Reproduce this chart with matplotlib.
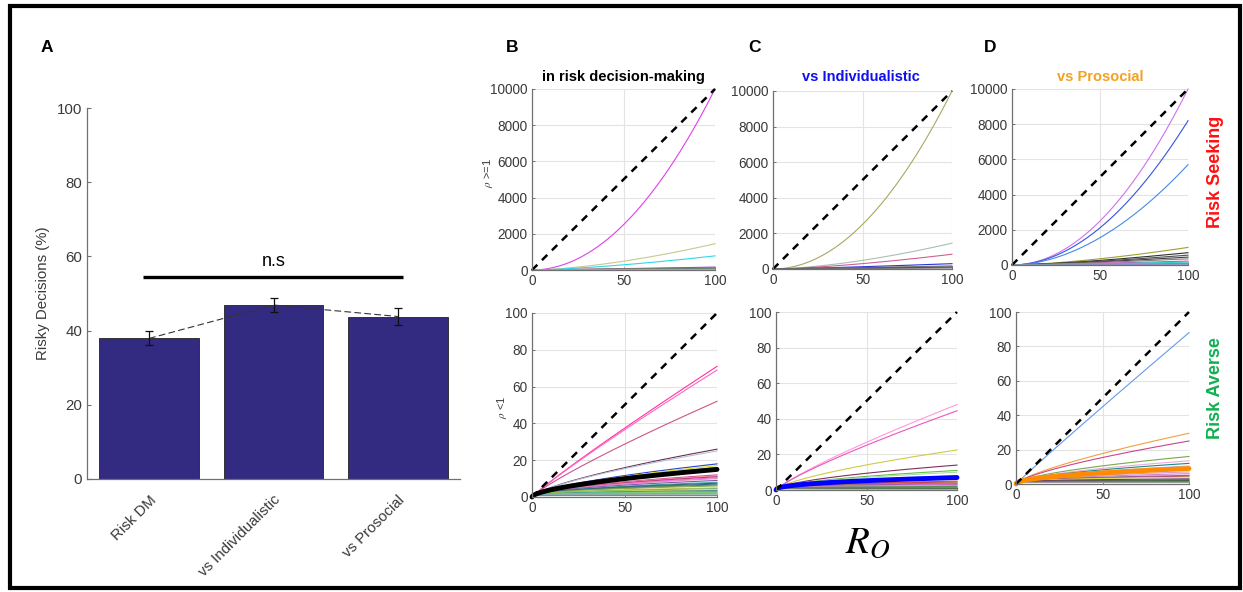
import numpy as np
import matplotlib
matplotlib.use("Agg")
import matplotlib.pyplot as plt
from matplotlib.patches import Rectangle

plt.rcParams['font.family'] = ['Liberation Sans', 'DejaVu Sans']
plt.rcParams['mathtext.fontset'] = 'stix'

# ---------------- data ----------------
bar_labels = ["Risk DM", "vs Individualistic", "vs Prosocial"]
bar_values = [37.9, 46.9, 43.8]
bar_errors = [1.9, 1.9, 2.3]

B_top_ends = [10000, 1450, 780, 160, 120, 90, 60, 40, 20]
B_top_colors = ['#E040E8', '#C8C890', '#30D8E8', '#8040A0', '#A09040',
                '#6060A0', '#909060', '#40A080', '#B0B0B0']
B_bot_ends = [71, 69, 52, 26, 25, 18, 17, 16, 12, 11.5, 11, 10.5, 10, 9, 8,
              7.5, 7, 6.5, 6, 5, 4.5, 4, 3.5, 3, 2.5, 2, 1.5, 1]
B_bot_colors = ['#FF3399', '#FF66CC', '#CC5588', '#6B2D4F', '#B0C4DE', '#2244CC',
                '#DDDD22', '#44AA44', '#CC4488', '#FF88AA', '#AA3366', '#EE66CC',
                '#DD88BB', '#8855AA', '#44AAAA', '#2F6F6F', '#336699', '#558855',
                '#88AA44', '#CCCC55', '#66AA66', '#DDDD44', '#558888', '#44BB99',
                '#88CC66', '#33CCAA', '#99AAAA', '#22BB88']
B_bot_mean = 15

C_top_ends = [10000, 1450, 830, 300, 170, 130, 100, 60]
C_top_colors = ['#A8A860', '#A8C0B0', '#D06090', '#3030E0', '#606060',
                '#909090', '#404040', '#707070']
C_bot_ends = [48, 44.5, 22.5, 14, 11, 10, 8, 5, 4.5, 4, 3.5, 3, 2.5, 2, 1.5, 1, 0.5]
C_bot_colors = ['#FF99DD', '#EE55BB', '#CCCC44', '#7F2F5F', '#66BB44', '#AADDAA',
                '#88CCEE', '#DD6622', '#CC3333', '#AA8844', '#9955AA', '#CC55CC',
                '#EE88CC', '#668866', '#449944', '#226622', '#888888']
C_bot_mean = 7

D_top_ends = [10000, 8200, 5700, 1000, 700, 560, 450, 350, 220, 160, 90, 40]
D_top_colors = ['#D070F0', '#3355DD', '#4488EE', '#A0A030', '#303030', '#505050',
                '#404040', '#808080', '#E040C0', '#30D0D0', '#70A070', '#9090C0']
D_bot_ends = [88, 29.5, 25, 16, 13.5, 12, 10.5, 7, 6, 5, 4.5, 4, 3, 2.5, 2, 1.5, 1]
D_bot_colors = ['#6699EE', '#F0A040', '#CC4488', '#77AA44', '#EEAADD', '#228888',
                '#BBBBDD', '#DD99CC', '#CC88CC', '#9966AA', '#AA4466', '#DDDD44',
                '#663366', '#884488', '#336633', '#777777', '#999999']
D_bot_mean = 9

R_max = 100

# ---------------- figure ----------------
W, H = 1243, 592
fig = plt.figure(figsize=(W / 100, H / 100), dpi=100)
fig.patch.set_facecolor('white')


def ax_px(l, t, r, b):
    return fig.add_axes([l / W, 1 - b / H, (r - l) / W, (b - t) / H])


TICKC = '#3A3A3A'
SPINEC = '#707070'

# frame
fig.patches.append(Rectangle((10 / W, 1 - 588 / H), 1230 / W, 582 / H,
                             transform=fig.transFigure, fill=False,
                             lw=3, ec='black'))

# ---------------- Panel A ----------------
axA = ax_px(87, 108, 460, 479)
xs = np.arange(1, len(bar_values) + 1)
axA.bar(xs, bar_values, width=0.8, color='#332A82', edgecolor='#222222', lw=0.6, zorder=2)
axA.errorbar(xs, bar_values, yerr=bar_errors, fmt='none', ecolor='#111111',
             elinewidth=0.9, capsize=3, capthick=0.9, zorder=4)
axA.plot(xs, bar_values, ls=(0, (6, 3)), color='#333333', lw=0.8, zorder=3)
axA.plot([0.95, 3.04], [54.5, 54.5], color='black', lw=2.4, solid_capstyle='butt')
axA.text(2, 56.2, 'n.s', ha='center', va='bottom', fontsize=13, color='black')
axA.set_xlim(0.5, 3.5)
axA.set_ylim(0, 100)
axA.set_yticks(np.arange(0, 101, 20))
axA.set_xticks(xs)
axA.set_xticklabels(bar_labels, rotation=45, ha='right', rotation_mode='anchor')
for s in ['top', 'right']:
    axA.spines[s].set_visible(False)
for s in ['left', 'bottom']:
    axA.spines[s].set_color(SPINEC)
    axA.spines[s].set_linewidth(0.9)
axA.tick_params(direction='in', length=3, width=0.8, colors=SPINEC,
                labelcolor=TICKC, labelsize=10.8)
axA.tick_params(axis='x', length=0, pad=10)
axA.set_ylabel('Risky Decisions (%)', fontsize=10.8, color=TICKC, labelpad=5)

# ---------------- Power curves ----------------
x = np.linspace(0, R_max, 301)


def curve(end):
    rho = np.log(end) / np.log(R_max)
    return x ** rho


def style_sub(ax, top):
    ax.set_xlim(0, 100)
    if top:
        ax.set_ylim(0, 10000)
        ax.set_yticks(np.arange(0, 10001, 2000))
    else:
        ax.set_ylim(0, 100)
        ax.set_yticks(np.arange(0, 101, 20))
    ax.set_xticks([0, 50, 100])
    ax.grid(True, color='#E3E3E3', lw=0.8)
    ax.set_axisbelow(True)
    for s in ['top', 'right']:
        ax.spines[s].set_visible(False)
    for s in ['left', 'bottom']:
        ax.spines[s].set_color(SPINEC)
        ax.spines[s].set_linewidth(0.9)
    ax.tick_params(direction='in', length=2.5, width=0.7, colors=SPINEC,
                   labelcolor=TICKC, labelsize=9.8, pad=3)


def draw(ax, ends, colors, top, mean=None, mean_color=None):
    for e, c in zip(ends, colors):
        ax.plot(x, curve(e), color=c, lw=0.8, clip_on=False)
    if mean is not None:
        ax.plot(x, curve(mean), color=mean_color, lw=3.5, clip_on=False,
                solid_capstyle='round')
    ymax = 10000 if top else 100
    ax.plot([0, 100], [0, ymax], color='black', lw=1.8, ls=(0, (3.0, 2.6)), clip_on=False)
    style_sub(ax, top)


axBt = ax_px(532, 89, 715, 270)
draw(axBt, B_top_ends, B_top_colors, True)
axBb = ax_px(532, 313, 717, 497)
draw(axBb, B_bot_ends, B_bot_colors, False, B_bot_mean, 'black')

axCt = ax_px(773, 91, 952, 269)
draw(axCt, C_top_ends, C_top_colors, True)
axCb = ax_px(776, 312, 957, 490)
draw(axCb, C_bot_ends, C_bot_colors, False, C_bot_mean, '#0000FF')

axDt = ax_px(1012, 89, 1188, 265)
draw(axDt, D_top_ends, D_top_colors, True)
axDb = ax_px(1016, 312, 1189, 484)
draw(axDb, D_bot_ends, D_bot_colors, False, D_bot_mean, '#FF8C00')

# titles
def ftext(px, py, s, **kw):
    fig.text(px / W, 1 - py / H, s, **kw)

ftext(623, 77, 'in risk decision-making', ha='center', va='center',
      fontsize=10.5, fontweight='bold', color='black')
ftext(861, 77, 'vs Individualistic', ha='center', va='center',
      fontsize=10.5, fontweight='bold', color='#1010EE')
ftext(1100, 77, 'vs Prosocial', ha='center', va='center',
      fontsize=10.5, fontweight='bold', color='#F5A020')

# panel letters
for px, s in [(47, 'A'), (512, 'B'), (755, 'C'), (990, 'D')]:
    ftext(px, 47, s, ha='center', va='center', fontsize=12.5, fontweight='bold', color='black')

# row labels
ftext(1216, 172, 'Risk Seeking', ha='center', va='center', rotation=90,
      fontsize=13, fontweight='bold', color='#FF1010')
ftext(1216, 388, 'Risk Averse', ha='center', va='center', rotation=90,
      fontsize=13, fontweight='bold', color='#10B050')

# rho labels
ftext(488, 173, r'$\rho$ >=1', ha='center', va='center', rotation=90,
      fontsize=8, color=TICKC)
ftext(502, 407, r'$\rho$ <1', ha='center', va='center', rotation=90,
      fontsize=8, color=TICKC)

# R_O
ftext(868, 543, r'$R_O$', ha='center', va='center', fontsize=28, color='black')

fig.savefig('out.png', dpi=100)
